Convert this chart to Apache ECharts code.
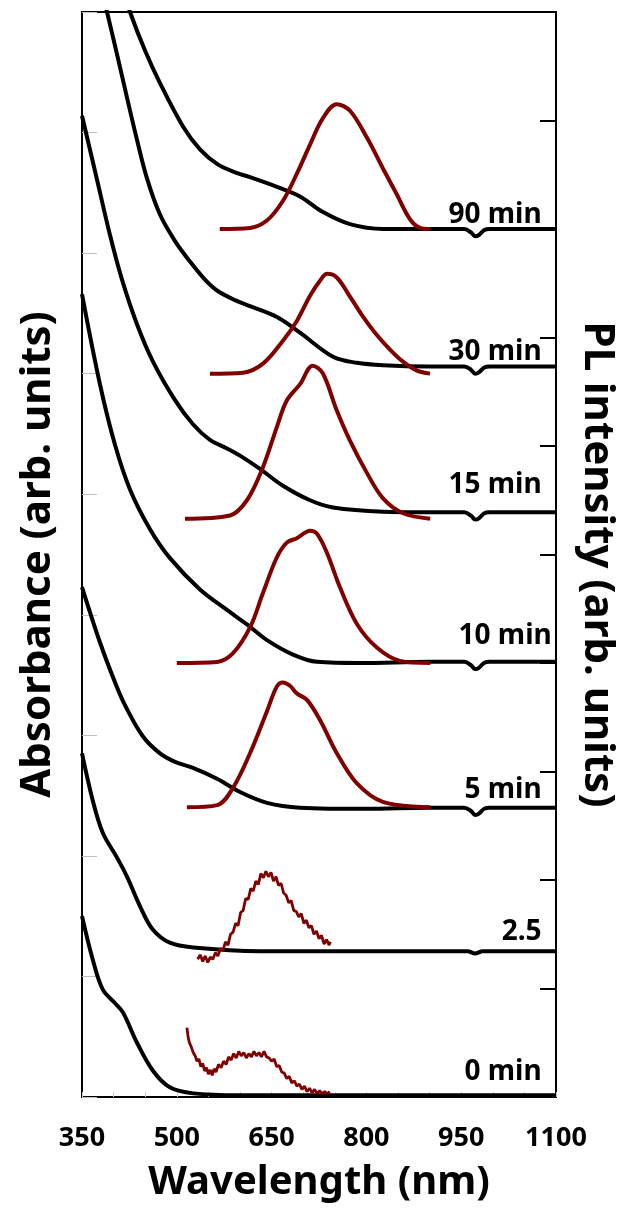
<!DOCTYPE html>
<html>
<head>
<meta charset="utf-8">
<script src="https://cdn.jsdelivr.net/npm/echarts@6/dist/echarts.min.js"></script>
<style>
  html, body { margin: 0; padding: 0; background: #fff; }
  #chart { width: 626px; height: 1214px; }
</style>
</head>
<body>
<div id="chart"></div>
<script>
// absorbance curves, [wavelength nm, absorbance offset] (left axis)
var abs90 = [[400, 9.42], [426, 9.0], [449.7, 8.68], [473.4, 8.41], [509.8, 8.05], [536.7, 7.86],
  [563.6, 7.74], [592, 7.67], [615.8, 7.63], [658.5, 7.55], [694.9, 7.47], [731.3, 7.34], [774, 7.24],
  [826.3, 7.20], [900, 7.20], [955, 7.20], [966, 7.17], [972, 7.14], [978, 7.15], [986, 7.19], [995, 7.20], [1100, 7.20]];
var abs30 = [[370, 9.45], [389.6, 9.0], [405.4, 8.65], [421.2, 8.29], [437, 7.94], [452.8, 7.62], [473.4, 7.32],
  [497.2, 7.10], [520.9, 6.93], [544.6, 6.78], [563.6, 6.69], [592, 6.61], [615.8, 6.56], [658.5, 6.47],
  [694.9, 6.34], [747.2, 6.14], [785, 6.09], [826.3, 6.07], [900, 6.06], [955, 6.06], [966, 6.03], [972, 6.0],
  [978, 6.01], [986, 6.05], [995, 6.06], [1100, 6.06]];
var abs15 = [[350, 8.14], [373.7, 7.61], [394.3, 7.15], [413.3, 6.78], [437, 6.41], [462.3, 6.10], [497.2, 5.78],
  [525.6, 5.58], [552.5, 5.45], [579.4, 5.38], [600, 5.32], [631.6, 5.21], [668, 5.07], [710.8, 4.95],
  [747.2, 4.89], [826.3, 4.855], [900, 4.85], [955, 4.85], [966, 4.82], [972, 4.79], [978, 4.80], [986, 4.84],
  [995, 4.85], [1100, 4.85]];
var abs10 = [[350, 6.66], [378.5, 5.91], [402.2, 5.41], [425.9, 5.04], [457.6, 4.71], [489.2, 4.47], [536.7, 4.21],
  [579.4, 4.04], [611, 3.92], [642.7, 3.79], [683.9, 3.67], [721.8, 3.61], [789.9, 3.60], [900, 3.61], [955, 3.61],
  [966, 3.58], [972, 3.55], [978, 3.56], [986, 3.60], [995, 3.61], [1100, 3.61]];
var abs5 = [[350, 4.23], [378.5, 3.77], [402.2, 3.44], [418, 3.25], [446.5, 2.99], [473.4, 2.85], [497.2, 2.78],
  [525.6, 2.73], [563.6, 2.64], [600, 2.53], [642.7, 2.44], [694.9, 2.40], [800, 2.39], [900, 2.40], [955, 2.40],
  [966, 2.37], [972, 2.34], [978, 2.35], [986, 2.39], [995, 2.40], [1100, 2.40]];
var abs25 = [[350, 2.85], [367, 2.46], [383, 2.19], [405, 1.99], [421, 1.83], [442, 1.58], [462, 1.39], [489, 1.28],
  [526, 1.24], [632, 1.21], [800, 1.21], [960, 1.21], [972, 1.19], [984, 1.21], [1100, 1.21]];
var abs0 = [[350, 1.5], [367, 1.14], [383, 0.89], [402, 0.78], [415, 0.70], [437, 0.45], [462, 0.22], [489, 0.08],
  [526, 0.03], [600, 0.015], [1100, 0.015]];

// photoluminescence curves, [wavelength nm, PL offset] (right axis)
var pl90 = [[568, 8.00], [616, 8.01], [643, 8.08], [668, 8.26], [690, 8.51], [711, 8.78], [731, 9.02], [753, 9.15],
  [774, 9.09], [801, 8.84], [826, 8.56], [848, 8.32], [869, 8.09], [885, 8.01], [901, 8.00]];
var pl30 = [[552.5, 6.667], [604.7, 6.676], [636.4, 6.759], [668, 6.971], [690.2, 7.155], [710.8, 7.385],
  [726.6, 7.523], [737.7, 7.587], [753.5, 7.551], [774, 7.376], [794.6, 7.192], [813.6, 7.044], [837.3, 6.888],
  [857.9, 6.777], [880.1, 6.694], [900.6, 6.667]];
var pl15 = [[513, 5.33], [584, 5.36], [611, 5.50], [636, 5.80], [658, 6.17], [674, 6.42], [695, 6.57], [715, 6.74],
  [731, 6.67], [753, 6.33], [774, 6.05], [801, 5.75], [826, 5.52], [858, 5.38], [901, 5.33]];
var pl10 = [[500, 4.00], [564, 4.01], [589, 4.09], [616, 4.33], [636, 4.64], [658, 4.97], [674, 5.11], [690, 5.15],
  [711, 5.22], [722, 5.19], [738, 5.01], [758, 4.70], [785, 4.36], [817, 4.14], [853, 4.02], [901, 4.00]];
var pl5 = [[516, 2.67], [564, 2.69], [589, 2.85], [616, 3.17], [643, 3.56], [658, 3.78], [668, 3.82], [679, 3.79],
  [690, 3.72], [706, 3.66], [727, 3.47], [753, 3.17], [785, 2.89], [826, 2.72], [901, 2.67]];
var pl25 = [[533, 1.27], [537, 1.31], [541, 1.25], [545, 1.30], [549, 1.24], [553, 1.29], [557, 1.27], [561, 1.33],
  [565, 1.30], [569, 1.37], [573, 1.35], [577, 1.43], [581, 1.40], [585, 1.50], [589, 1.52], [593, 1.60],
  [597, 1.58], [601, 1.70], [605, 1.72], [609, 1.83], [613, 1.82], [617, 1.92], [621, 1.90], [625, 1.99],
  [629, 1.96], [633, 2.06], [637, 2.02], [641, 2.08], [645, 2.03], [649, 2.07], [653, 1.99], [657, 2.03],
  [661, 1.95], [665, 1.97], [669, 1.88], [673, 1.86], [677, 1.79], [681, 1.81], [685, 1.72], [689, 1.71],
  [693, 1.66], [697, 1.69], [701, 1.60], [705, 1.63], [709, 1.56], [713, 1.58], [717, 1.50], [721, 1.53],
  [725, 1.46], [729, 1.49], [733, 1.41], [737, 1.45], [741, 1.40], [743, 1.43]];
var pl0 = [[516, 0.64], [518, 0.55], [520, 0.50], [523, 0.46], [526, 0.41], [529, 0.38], [532, 0.33], [535, 0.35],
  [538, 0.28], [541, 0.31], [544, 0.24], [547, 0.27], [550, 0.21], [553, 0.25], [556, 0.20], [559, 0.26],
  [562, 0.23], [566, 0.30], [570, 0.27], [574, 0.33], [578, 0.30], [582, 0.37], [586, 0.34], [590, 0.40],
  [594, 0.36], [598, 0.42], [602, 0.38], [606, 0.41], [610, 0.36], [614, 0.40], [618, 0.37], [622, 0.42],
  [626, 0.38], [630, 0.41], [634, 0.37], [638, 0.42], [642, 0.37], [646, 0.36], [650, 0.33], [654, 0.35],
  [658, 0.28], [662, 0.29], [666, 0.23], [670, 0.22], [674, 0.17], [678, 0.19], [682, 0.13], [686, 0.15],
  [690, 0.10], [694, 0.12], [698, 0.07], [702, 0.10], [706, 0.05], [710, 0.08], [714, 0.04], [718, 0.07],
  [722, 0.03], [726, 0.06], [730, 0.03], [734, 0.05], [738, 0.03], [742, 0.05]];

// curve labels, anchored by their right edge (left axis units)
var timeLabels = ['90 min', '30 min', '15 min', '10 min', '5 min', '2.5', '0 min'];
var labelX = [1078, 1078, 1078, 1094, 1078, 1078, 1078];
var labelY = [7.32, 6.18, 5.08, 3.82, 2.55, 1.37, 0.21];

var FONT = 'Noto Sans';
var DARKRED = '#800000';

function absSeries(data) {
    return {
        type: 'line', yAxisIndex: 0, data: data, smooth: 0.35, symbol: 'none', clip: true,
        lineStyle: { color: '#000', width: 4 }, z: 2
    };
}
function plSeries(data, noisy) {
    return {
        type: 'line', yAxisIndex: 1, data: data, smooth: noisy ? false : 0.35,
        symbol: 'none', clip: true,
        lineStyle: { color: DARKRED, width: noisy ? 2.8 : 4 }, z: 3
    };
}

const chart = echarts.init(document.getElementById('chart'));

var labelData = timeLabels.map((t, i) => ({ name: t, value: [labelX[i], labelY[i]] }));

var option = {
    animation: false,
    grid: { left: 82, right: 69, top: 12, bottom: 117, show: true, borderColor: '#000', borderWidth: 2 },
    xAxis: {
        type: 'value', min: 350, max: 1100, interval: 50,
        name: 'Wavelength (nm)', nameLocation: 'middle', nameGap: 66,
        nameTextStyle: { fontFamily: FONT, fontWeight: 'bold', fontSize: 40, color: '#000' },
        axisLine: { show: true, lineStyle: { color: '#000', width: 2 } },
        axisTick: { inside: true, length: 5, lineStyle: { color: '#c8c8c8', width: 1 } },
        axisLabel: {
            margin: 28, fontFamily: FONT, fontWeight: 'bold', fontSize: 27, color: '#000',
            formatter: v => ((v - 350) % 150 === 0 ? String(v) : '')
        },
        splitLine: { show: false }
    },
    yAxis: [
        {
            type: 'value', min: 0, max: 9, interval: 1, position: 'left',
            name: 'Absorbance (arb. units)', nameLocation: 'middle', nameGap: 23, nameRotate: 90,
            nameTextStyle: { fontFamily: FONT, fontWeight: 'bold', fontSize: 42, color: '#000' },
            axisLine: { show: true, lineStyle: { color: '#000', width: 2 } },
            axisTick: { inside: true, length: 15, lineStyle: { color: '#c0c0c0', width: 1 } },
            axisLabel: { show: false },
            splitLine: { show: false }
        },
        {
            type: 'value', min: 0, max: 10, interval: 1, position: 'right',
            name: 'PL intensity (arb. units)', nameLocation: 'middle', nameGap: 20, nameRotate: -90,
            nameTextStyle: {
                fontFamily: FONT, fontWeight: 'bold', fontSize: 42, color: '#000',
                padding: [0, 0, 0, 20]
            },
            axisLine: { show: true, lineStyle: { color: '#000', width: 2 } },
            axisTick: { inside: true, length: 16, lineStyle: { color: '#000', width: 2 } },
            axisLabel: { show: false },
            splitLine: { show: false }
        }
    ],
    series: [
        absSeries(abs90), absSeries(abs30), absSeries(abs15), absSeries(abs10),
        absSeries(abs5), absSeries(abs25), absSeries(abs0),
        plSeries(pl90), plSeries(pl30), plSeries(pl15), plSeries(pl10), plSeries(pl5),
        plSeries(pl25, true), plSeries(pl0, true),
        {
            type: 'scatter', yAxisIndex: 0, data: labelData, symbolSize: 1,
            itemStyle: { color: 'rgba(0,0,0,0)' }, z: 5,
            label: {
                show: true, position: 'left', distance: 0, formatter: '{b}', opacity: 1,
                fontFamily: FONT, fontWeight: 'bold', fontSize: 28, color: '#000'
            }
        }
    ]
};

option && chart.setOption(option);
</script>
</body>
</html>
